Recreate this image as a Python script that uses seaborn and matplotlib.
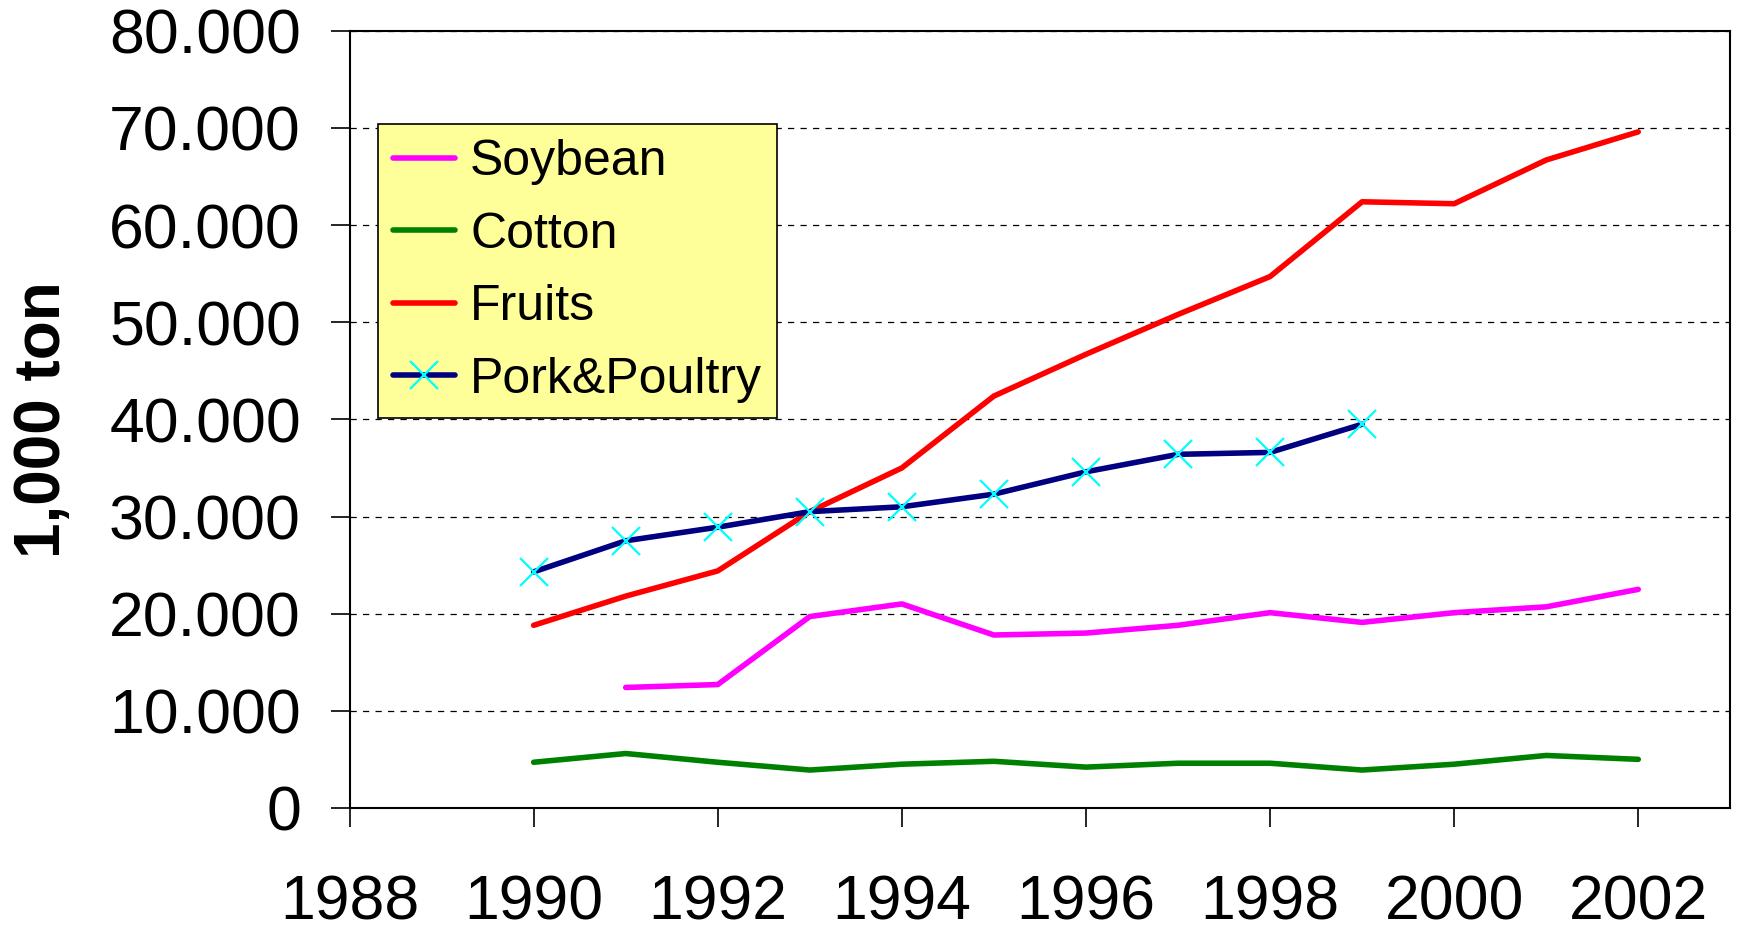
import numpy as np
import pandas as pd
import matplotlib
matplotlib.use("Agg")
import matplotlib.pyplot as plt
import seaborn as sns
from matplotlib.ticker import FuncFormatter

# Data (1,000 ton)
years = [1990, 1991, 1992, 1993, 1994, 1995, 1996, 1997, 1998, 1999, 2000, 2001, 2002]
soybean = [np.nan, 12400, 12700, 19700, 21000, 17800, 18000, 18800, 20100, 19100, 20100, 20700, 22500]
cotton = [4700, 5600, 4700, 3900, 4500, 4800, 4200, 4600, 4600, 3900, 4500, 5400, 5000]
fruits = [18800, 21800, 24400, 30500, 35000, 42400, 46700, 50800, 54700, 62400, 62200, 66700, 69600]
pork_poultry = [24300, 27500, 28900, 30500, 31000, 32300, 34600, 36400, 36600, 39500, np.nan, np.nan, np.nan]

series_names = ["Soybean", "Cotton", "Fruits", "Pork&Poultry"]
series_colors = ["#FF00FF", "#008000", "#FF0000", "#000080"]

df = pd.DataFrame({"Year": years, "Soybean": soybean, "Cotton": cotton,
                   "Fruits": fruits, "Pork&Poultry": pork_poultry})

sns.set_theme(style="ticks")
plt.rcParams["font.family"] = ["Liberation Sans", "DejaVu Sans"]
plt.rcParams.update({"text.color": "black", "axes.labelcolor": "black",
                     "xtick.color": "black", "ytick.color": "black"})

fig = plt.figure(figsize=(17.39, 9.34), dpi=100)
ax = fig.add_axes([0.201, 0.135, 0.794, 0.832])

for name, color in zip(series_names, series_colors):
    if name == "Pork&Poultry":
        sns.lineplot(data=df, x="Year", y=name, ax=ax, color=color, lw=4,
                     marker="x", markersize=20, markeredgewidth=1.6,
                     markeredgecolor="#00FFFF", label=name)
    else:
        sns.lineplot(data=df, x="Year", y=name, ax=ax, color=color, lw=4, label=name)

ax.set_xlim(1988, 2003)
ax.set_ylim(0, 80000)
ax.set_xticks(range(1988, 2003, 2))
ax.set_yticks(range(0, 80001, 10000))
ax.yaxis.set_major_formatter(FuncFormatter(lambda v, p: f"{v:,.0f}".replace(",", ".")))

ax.yaxis.grid(True, color="black", linestyle=(0, (5, 5)), linewidth=0.9)
ax.set_axisbelow(True)

for s in ax.spines.values():
    s.set_color("black")
    s.set_linewidth(1.5)

ax.tick_params(axis="both", direction="out", length=14, width=1.2, color="black")
ax.tick_params(axis="y", labelsize=45, pad=21, labelcolor="black")
ax.tick_params(axis="x", labelsize=45, pad=33, labelcolor="black")

ax.set_xlabel("")
ax.set_ylabel("1,000 ton", fontsize=46, fontweight="bold", color="black")
ax.yaxis.set_label_coords(-0.200, 0.5)

leg = ax.legend(loc="upper left", bbox_to_anchor=(0.0203, 0.880), borderaxespad=0,
                fontsize=36, frameon=True, fancybox=False, handlelength=1.25,
                handletextpad=0.3, borderpad=0.3, labelspacing=0.53)
leg.get_frame().set_facecolor("#FFFF99")
leg.get_frame().set_edgecolor("black")
leg.get_frame().set_linewidth(1.2)
leg.get_frame().set_alpha(1)
for t in leg.get_texts():
    t.set_color("black")

fig.savefig("out.png", dpi=100)
